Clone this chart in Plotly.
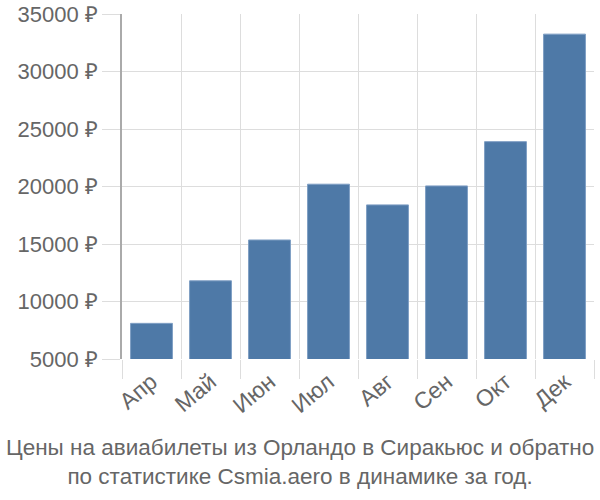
import plotly.graph_objects as go

months = ["Апр", "Май", "Июн", "Июл", "Авг", "Сен", "Окт", "Дек"]
prices = [8100, 11800, 15350, 20200, 18400, 20050, 23900, 33250]
y_ticks = [5000, 10000, 15000, 20000, 25000, 30000, 35000]
title_lines = ["Цены на авиабилеты из Орландо в Сиракьюс и обратно",
               "по статистике Csmia.aero в динамике за год."]

fig = go.Figure(go.Bar(
    x=months, y=prices,
    marker=dict(color="#4e79a7", line=dict(color="#7f9fc4", width=1)),
))

fig.update_layout(
    width=600, height=500,
    margin=dict(l=122, r=6, t=14, b=141),
    paper_bgcolor="white", plot_bgcolor="white",
    bargap=0.29,
    showlegend=False,
    font=dict(family="Liberation Sans, Arial, sans-serif", size=23, color="#666"),
)
fig.update_xaxes(
    tickson="boundaries", showgrid=True, gridcolor="#dddddd", gridwidth=1,
    ticks="outside", ticklen=19, tickcolor="#dddddd",
    tickangle=-40, tickfont=dict(size=23, color="#666"),
    ticklabelstandoff=4,
    showline=False, zeroline=False, automargin=False,
)
fig.update_yaxes(
    range=[5000, 35000], tickvals=y_ticks,
    ticktext=[f"{v} ₽" for v in y_ticks],
    showgrid=True, gridcolor="#dddddd", gridwidth=1,
    ticks="outside", ticklen=18, tickcolor="#dddddd",
    tickfont=dict(size=22, color="#666"),
    showline=True, linecolor="#aaaaaa", linewidth=1.5,
    zeroline=False, automargin=False,
)
fig.add_annotation(
    text="<br>".join(title_lines), xref="paper", yref="paper",
    x=(300 - 122) / 472, xanchor="center", y=-0.215, yanchor="top",
    showarrow=False, align="center",
    font=dict(size=22.5, color="#666"),
)

fig.write_html("out.html")
